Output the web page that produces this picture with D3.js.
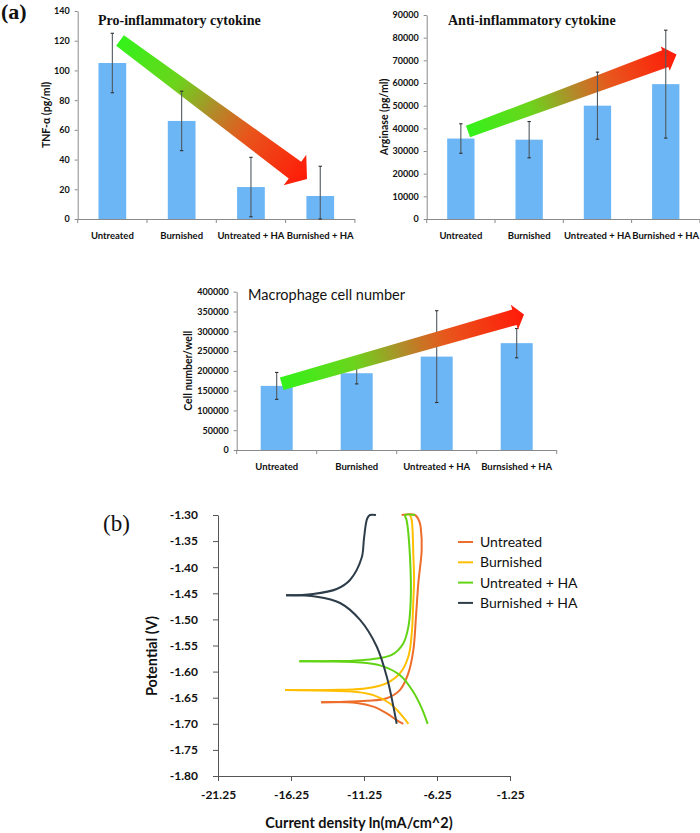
<!DOCTYPE html>
<html><head><meta charset="utf-8">
<script src="https://cdn.jsdelivr.net/npm/d3@7"></script>
<style>body{margin:0;background:#fff;} svg{display:block}</style>
</head><body>
<svg id="c" width="700" height="833"></svg>
<script>
// ---------- DATA ----------
const categories = ["Untreated", "Burnished", "Untreated + HA", "Burnished + HA"];
const macroCategories = ["Untreated", "Burnished", "Untreated + HA", "Burnsished + HA"];

const tnfValues = [105, 66, 21.5, 15.5];
const tnfErrors = [20, 20, 20, 20];
const tnfTicks = [0, 20, 40, 60, 80, 100, 120, 140];

const argValues = [35500, 35000, 50000, 59500];
const argErrors = [6500, 8000, 14800, 23800];
const argTicks = [0, 10000, 20000, 30000, 40000, 50000, 60000, 70000, 80000, 90000];

const cellValues = [162000, 194000, 236000, 270000];
const cellErrors = [34000, 27000, 116000, 37000];
const cellTicks = [0, 50000, 100000, 150000, 200000, 250000, 300000, 350000, 400000];

const seriesNames = ["Untreated", "Burnished", "Untreated + HA", "Burnished + HA"];
// [current density ln(mA/cm^2), potential V]
const untreatedCurve = [[-8.67,-1.30],[-7.76,-1.30],[-7.45,-1.313],[-7.36,-1.325],[-7.30,-1.367],[-7.53,-1.431],[-7.69,-1.495],[-7.87,-1.559],[-8.21,-1.603],[-8.78,-1.635],[-9.69,-1.651],[-11.06,-1.656],[-12.89,-1.658],[-14.19,-1.6585],[-11.75,-1.660],[-10.61,-1.667],[-9.69,-1.680],[-9.01,-1.693],[-8.56,-1.70]];
const burnishedCurve = [[-8.10,-1.30],[-7.98,-1.31],[-7.87,-1.377],[-7.82,-1.425],[-7.87,-1.463],[-7.98,-1.527],[-8.21,-1.571],[-8.78,-1.603],[-9.69,-1.622],[-11.06,-1.632],[-12.89,-1.635],[-16.66,-1.6353],[-11.75,-1.639],[-10.61,-1.645],[-9.47,-1.661],[-8.78,-1.680],[-8.21,-1.70]];
const untreatedHACurve = [[-7.76,-1.30],[-8.44,-1.30],[-8.33,-1.31],[-8.10,-1.38],[-8.05,-1.463],[-8.21,-1.514],[-8.56,-1.546],[-9.35,-1.568],[-10.61,-1.576],[-11.98,-1.579],[-13.80,-1.580],[-15.68,-1.5802],[-11.75,-1.582],[-10.15,-1.588],[-8.78,-1.607],[-7.87,-1.639],[-7.30,-1.670],[-6.89,-1.70]];
const burnishedHACurve = [[-10.43,-1.30],[-10.84,-1.30],[-11.03,-1.3067],[-11.25,-1.3446],[-11.41,-1.382],[-12.21,-1.4245],[-13.12,-1.4418],[-14.74,-1.4514],[-16.59,-1.4539],[-14.49,-1.4566],[-12.89,-1.4686],[-11.52,-1.501],[-10.38,-1.552],[-9.69,-1.610],[-9.01,-1.70]];
const xTicksB = [-21.25, -16.25, -11.25, -6.25, -1.25];
const yTicksB = [-1.30, -1.35, -1.40, -1.45, -1.50, -1.55, -1.60, -1.65, -1.70, -1.75, -1.80];

// ---------- STYLE ----------
const barColor = "#6cb6f6";
const axisColor = "#8a8a8a";
const lineColors = ["#ed6d2b", "#ffbf00", "#62d414", "#2e3d4a"];
const sansBold = "Lato, 'Open Sans', sans-serif";

const svg = d3.select("#c");
const defs = svg.append("defs");

let gradId = 0;
function blockArrow(T, P, w0, w1, H, L) {
  const id = "ag" + (gradId++);
  const gr = defs.append("linearGradient").attr("id", id).attr("gradientUnits", "userSpaceOnUse")
    .attr("x1", T[0]).attr("y1", T[1]).attr("x2", P[0]).attr("y2", P[1]);
  [[0, "#33f21a"], [0.3, "#6cd41c"], [0.5, "#b08c2a"], [0.68, "#e8561c"], [1, "#ff1a08"]]
    .forEach(s => gr.append("stop").attr("offset", s[0]).attr("stop-color", s[1]));
  const dx = P[0] - T[0], dy = P[1] - T[1], len = Math.hypot(dx, dy);
  const d = [dx / len, dy / len], p = [-d[1], d[0]];
  const B = [P[0] - L * d[0], P[1] - L * d[1]];
  const pt = (o, k) => [o[0] + k * p[0], o[1] + k * p[1]];
  const pts = [pt(T, w0), pt(B, w1), pt(B, H), P, pt(B, -H), pt(B, -w1), pt(T, -w0)];
  svg.append("polygon").attr("points", pts.map(q => q.join(",")).join(" "))
    .attr("fill", `url(#${id})`);
}

function barChart(cfg) {
  const g = svg.append("g");
  const x = d3.scaleBand().domain(cfg.cats).range([cfg.left, cfg.left + cfg.width])
    .paddingInner(0.6).paddingOuter(0.3);
  const y = d3.scaleLinear().domain([0, cfg.max]).range([cfg.bottom, cfg.top]);
  const step = x.step();

  g.selectAll("rect.bar").data(cfg.values).join("rect").attr("class", "bar")
    .attr("x", (d, i) => x(cfg.cats[i])).attr("width", x.bandwidth())
    .attr("y", d => y(d)).attr("height", d => cfg.bottom - y(d))
    .attr("fill", barColor);

  // y axis
  const ya = g.append("g").attr("transform", `translate(${cfg.left},0)`)
    .call(d3.axisLeft(y).tickValues(cfg.ticks).tickSize(3).tickSizeOuter(0).tickPadding(5).tickFormat(d => String(d)));
  ya.selectAll("path,line").attr("stroke", axisColor);
  ya.selectAll("text").attr("font-family", sansBold).attr("font-weight", 700)
    .attr("font-size", 9).attr("fill", "#111");

  // x axis
  g.append("line").attr("x1", cfg.left).attr("x2", cfg.left + cfg.width)
    .attr("y1", cfg.bottom + 0.5).attr("y2", cfg.bottom + 0.5).attr("stroke", axisColor);
  for (let i = 0; i <= cfg.cats.length; i++) {
    const xx = cfg.left + i * step;
    g.append("line").attr("x1", xx).attr("x2", xx).attr("y1", cfg.bottom).attr("y2", cfg.bottom + 4)
      .attr("stroke", axisColor);
  }
  g.selectAll("text.xl").data(cfg.cats).join("text").attr("class", "xl")
    .attr("x", d => x(d) + x.bandwidth() / 2).attr("y", cfg.bottom + cfg.labelDy)
    .attr("text-anchor", "middle").attr("font-family", sansBold).attr("font-weight", 700)
    .attr("font-size", 9.5).attr("fill", "#111").text(d => d);

  // y title
  g.append("text").attr("transform", `translate(${cfg.ytitleX},${(cfg.top + cfg.bottom) / 2}) rotate(-90)`)
    .attr("text-anchor", "middle").attr("font-family", sansBold).attr("font-weight", 700)
    .attr("font-size", 10.5).attr("fill", "#111").text(cfg.ytitle);

  // chart title
  g.append("text").attr("x", cfg.titleX).attr("y", cfg.titleY)
    .attr("font-family", cfg.titleFont).attr("font-weight", cfg.titleWeight)
    .attr("font-size", cfg.titleSize).attr("fill", "#111").text(cfg.title);

  const drawErrors = () => {
    const ge = svg.append("g");
    cfg.values.forEach((v, i) => {
      const cx = x(cfg.cats[i]) + x.bandwidth() / 2;
      const lo = Math.max(0, v - cfg.errors[i]), hi = v + cfg.errors[i];
      ge.append("line").attr("x1", cx).attr("x2", cx).attr("y1", y(lo)).attr("y2", y(hi))
        .attr("stroke", "#505a60").attr("stroke-width", 1.1);
      [lo, hi].forEach(e => ge.append("line").attr("x1", cx - 1.7).attr("x2", cx + 1.7)
        .attr("y1", y(e)).attr("y2", y(e)).attr("stroke", "#303030").attr("stroke-width", 1.1));
    });
  };
  if (cfg.errorsOverArrow) { cfg.arrow(); drawErrors(); }
  else { drawErrors(); cfg.arrow(); }
}

// ---------- PANEL (a) ----------
barChart({cats: categories, values: tnfValues, errors: tnfErrors, ticks: tnfTicks, max: 140,
  left: 77.7, width: 277.2, bottom: 219, top: 11, labelDy: 19.5,
  ytitle: "TNF-\u03b1 (pg/ml)", ytitleX: 50,
  title: "Pro-inflammatory cytokine", titleX: 98, titleY: 25,
  titleFont: "'Liberation Serif', 'Times New Roman', serif", titleWeight: 700, titleSize: 14,
  errorsOverArrow: true, arrow: () => blockArrow([120, 40.5], [307, 179], 6.5, 10.5, 19, 15)});

barChart({cats: categories, values: argValues, errors: argErrors, ticks: argTicks, max: 90000,
  left: 426.7, width: 273.2, bottom: 219, top: 15, labelDy: 19.5,
  ytitle: "Arginase (pg/ml)", ytitleX: 388,
  title: "Anti-inflammatory cytokine", titleX: 448, titleY: 25,
  titleFont: "'Liberation Serif', 'Times New Roman', serif", titleWeight: 700, titleSize: 14,
  errorsOverArrow: true, arrow: () => blockArrow([468, 131.5], [676.5, 54.5], 6, 9, 13, 12)});

barChart({cats: macroCategories, values: cellValues, errors: cellErrors, ticks: cellTicks, max: 400000,
  left: 236.7, width: 320, bottom: 450, top: 291.7, labelDy: 19.5,
  ytitle: "Cell number/well", ytitleX: 192,
  title: "Macrophage cell number", titleX: 248, titleY: 299.5,
  titleFont: "Lato, sans-serif", titleWeight: 400, titleSize: 14.5,
  errorsOverArrow: false, arrow: () => blockArrow([281.7, 383.7], [524, 314.5], 6.5, 8, 13, 10)});

svg.append("text").attr("x", 1).attr("y", 19).attr("font-family", "'Liberation Serif', serif")
  .attr("font-weight", 700).attr("font-size", 22).attr("fill", "#111").text("(a)");

// ---------- PANEL (b) ----------
const xb = d3.scaleLinear().domain([-21.25, -1.25]).range([218, 510]);
const yb = d3.scaleLinear().domain([-1.30, -1.80]).range([515, 776]);

const xAx = svg.append("g").attr("transform", "translate(0,776)")
  .call(d3.axisBottom(xb).tickValues(xTicksB).tickSize(5).tickSizeOuter(0).tickPadding(9).tickFormat(v => v.toFixed(2)));
const yAx = svg.append("g").attr("transform", "translate(218,0)")
  .call(d3.axisLeft(yb).tickValues(yTicksB).tickSize(5).tickSizeOuter(0).tickPadding(15).tickFormat(v => v.toFixed(2)));
[xAx, yAx].forEach(a => {
  a.selectAll("path,line").attr("stroke", "#555");
  a.selectAll("text").attr("font-family", sansBold).attr("font-weight", 700)
    .attr("font-size", 12).attr("fill", "#111");
});

const curves = [untreatedCurve, burnishedCurve, untreatedHACurve, burnishedHACurve];
const lineGen = d3.line().x(d => xb(d[0])).y(d => yb(d[1])).curve(d3.curveCatmullRom.alpha(0.5));
curves.forEach((c, i) => {
  let tip = 0;
  c.forEach((d, j) => { if (d[0] < c[tip][0]) tip = j; });
  [c.slice(0, tip + 1), c.slice(tip)].forEach(branch => {
    svg.append("path").attr("d", lineGen(branch)).attr("fill", "none")
      .attr("stroke", lineColors[i]).attr("stroke-width", 2);
  });
});

// legend
seriesNames.forEach((n, i) => {
  const yy = 542 + i * 20.3;
  svg.append("line").attr("x1", 458).attr("x2", 473).attr("y1", yy).attr("y2", yy)
    .attr("stroke", lineColors[i]).attr("stroke-width", 2);
  svg.append("text").attr("x", 480).attr("y", yy + 5).attr("font-family", "Lato, sans-serif")
    .attr("font-size", 14).attr("fill", "#111").text(n);
});

svg.append("text").attr("transform", "translate(157,656) rotate(-90)").attr("text-anchor", "middle")
  .attr("font-family", sansBold).attr("font-weight", 700).attr("font-size", 14.5).attr("fill", "#111")
  .text("Potential (V)");
svg.append("text").attr("x", 359).attr("y", 828).attr("text-anchor", "middle")
  .attr("font-family", sansBold).attr("font-weight", 700).attr("font-size", 14.5).attr("fill", "#111")
  .text("Current density ln(mA/cm^2)");

svg.append("text").attr("x", 103).attr("y", 531).attr("font-family", "'Liberation Serif', serif")
  .attr("font-size", 23).attr("fill", "#111").text("(b)");
</script>
</body></html>
